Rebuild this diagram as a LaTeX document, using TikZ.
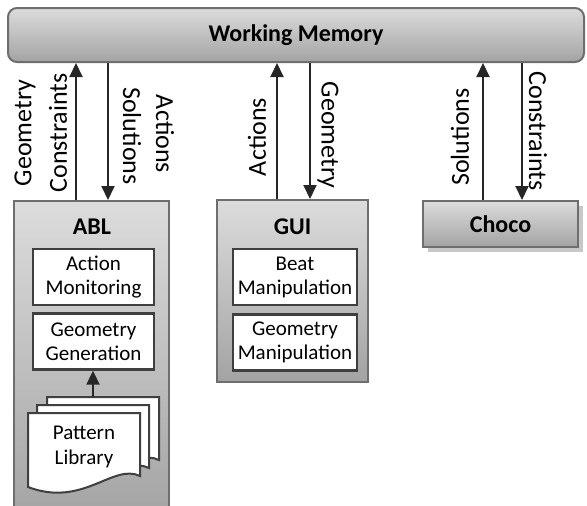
\documentclass[tikz,border=0pt]{standalone}
\usepackage{fontspec}
\setmainfont{Carlito}
\usetikzlibrary{arrows.meta,calc}
\definecolor{boxtop}{HTML}{DCDCDC}
\definecolor{boxbot}{HTML}{A3A3A3}
\definecolor{boxline}{HTML}{6E6E6E}
\definecolor{inline}{HTML}{3F3F3F}
\definecolor{arrowc}{HTML}{262626}
\definecolor{shadowc}{HTML}{C8C8C8}
\begin{document}
\begin{tikzpicture}[x=1pt,y=-1pt,
  comp/.style={draw=boxline, line width=2pt, top color=boxtop, bottom color=boxbot, inner sep=0pt},
  inbox/.style={draw=inline, line width=2.4pt, fill=white, align=center, font=\fontsize{21}{24}\selectfont, inner sep=0pt, minimum width=121pt, minimum height=56pt},
  ttl/.style={font=\fontsize{24}{28}\selectfont\bfseries},
  lbl/.style={font=\fontsize{26}{30}\selectfont, inner sep=0pt},
  arr/.style={draw=arrowc, line width=2pt, -{Triangle[length=14pt,width=13pt]}},
  docpath/.style={draw=inline, line width=2pt, fill=white}
]
\useasboundingbox (0,0) rectangle (587,506);
\clip (0,0) rectangle (587,506);

% Working memory
\node[comp, ttl, rounded corners=9pt, minimum width=576pt, minimum height=54pt] (wm) at (296,35) {Working Memory};

% Choco
\node[fill=shadowc, minimum width=155pt, minimum height=46pt, inner sep=0pt] (chocoshadow) at (505,229) {};
\node[comp, ttl, minimum width=155pt, minimum height=46pt] (choco) at (500.5,224) {Choco};

% ABL
\node[comp, minimum width=155pt, minimum height=320pt, anchor=north] (abl) at (91.5,200) {};
\node[ttl] (ablt) at (92,227) {ABL};
\node[inbox] (am) at (93.5,277) {Action\\Monitoring};
\node[inbox] (gg) at (93.5,341.5) {Geometry\\Generation};

% Pattern library (stacked documents)
\foreach \dx/\dy in {47/397, 37/405, 28/413}{
  \draw[docpath, shift={(\dx,\dy)}] (0,0) -- (112,0) -- (112,63)
    .. controls (85,50) and (55,95) .. (0,74) -- cycle;
}
\node[align=center, font=\fontsize{21}{25}\selectfont] (pl) at (84,447) {Pattern\\Library};
\coordinate (pltop) at (93,397);
\draw[arr] (pltop) -- (gg.south -| pltop);

% GUI
\node[comp, minimum width=151pt, minimum height=182pt] (gui) at (292.5,291) {};
\node[ttl] (guit) at (292.5,227) {GUI};
\node[inbox, minimum width=124pt] (bm) at (295,277) {Beat\\Manipulation};
\node[inbox, minimum width=124pt] (gm) at (295,342.5) {Geometry\\Manipulation};

% Arrows
\coordinate (x1) at (76,0);
\coordinate (x2) at (108,0);
\coordinate (x3) at (277,0);
\coordinate (x4) at (310,0);
\coordinate (x5) at (483,0);
\coordinate (x6) at (522,0);
\draw[arr] (abl.north -| x1) -- (wm.south -| x1);
\draw[arr] (wm.south -| x2) -- (abl.north -| x2);
\draw[arr] (gui.north -| x3) -- (wm.south -| x3);
\draw[arr] (wm.south -| x4) -- (gui.north -| x4);
\draw[arr] (choco.north -| x5) -- (wm.south -| x5);
\draw[arr] (wm.south -| x6) -- (choco.north -| x6);

% Labels
\node[lbl, rotate=90] (l1) at (25,133) {Geometry};
\node[lbl, rotate=90] (l2) at (58,133) {Constraints};
\node[lbl, rotate=-90] (l3) at (132,136) {Solutions};
\node[lbl, rotate=-90] (l4) at (165,134) {Actions};
\node[lbl, rotate=90] (l5) at (257,137) {Actions};
\node[lbl, rotate=-90] (l6) at (328,135) {Geometry};
\node[lbl, rotate=90] (l7) at (460,137) {Solutions};
\node[lbl, rotate=-90] (l8) at (538,131) {Constraints};
\end{tikzpicture}
\end{document}
